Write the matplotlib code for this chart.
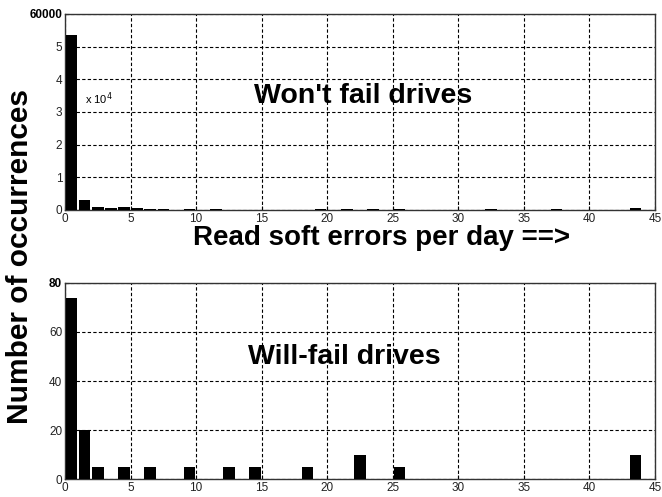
#%% Packages
import numpy as np
import matplotlib
matplotlib.use('Agg')
import matplotlib.pyplot as plt

#%% Data (one bin per error count)
wont_bins = [0, 1, 2, 3, 4, 5, 6, 7, 9, 11, 19, 21, 23, 25, 32, 37, 43]
wont_counts = [53500, 3200, 900, 500, 900, 600, 350, 300, 250, 250,
               250, 200, 200, 250, 250, 250, 600]

will_bins = [0, 1, 2, 4, 6, 9, 12, 14, 18, 22, 25, 43]
will_counts = [74, 20, 5, 5, 5, 5, 5, 5, 5, 10, 5, 10]

x_ticks = [0, 5, 10, 15, 20, 25, 30, 35, 40, 45]
top_yticks = [0, 10000, 20000, 30000, 40000, 50000, 60000]
top_ylabels = ['0', '1', '2', '3', '4', '5', '60000']
bot_yticks = [0, 20, 40, 60, 80]
bot_ylabels = ['0', '20', '40', '60', '80']

#%% Style
plt.rcParams['font.family'] = ['Liberation Sans', 'DejaVu Sans']
tick_font = 8.5
W, H = 662, 497


def setup_axis(ax, yticks, ylabels, ymax):
    ax.set_xlim(0, 45)
    ax.set_ylim(0, ymax)
    ax.set_xticks(x_ticks)
    ax.set_xticklabels([str(t) for t in x_ticks], fontsize=tick_font, color='#222222')
    ax.set_yticks(yticks)
    ax.set_yticklabels(ylabels, fontsize=tick_font, color='#222222')
    # MATLAB shows the top label in bold
    ax.get_yticklabels()[-1].set_fontweight('bold')
    ax.get_yticklabels()[-1].set_color('black')
    ax.tick_params(direction='in', length=3, width=0.8, pad=2)
    ax.grid(True, color='black', linestyle=(0, (3, 2)), linewidth=0.8)
    ax.set_axisbelow(True)
    for s in ax.spines.values():
        s.set_color('#333333')
        s.set_linewidth(1.0)


#%% Figure
fig = plt.figure(figsize=(6.62, 4.97), dpi=100)
ax1 = fig.add_axes([0.0982, 0.5775, 0.8912, 0.3944])
ax2 = fig.add_axes([0.0982, 0.0362, 0.8912, 0.3944])

ax1.bar(np.array(wont_bins) + 0.5, wont_counts, width=0.88, color='black', zorder=3)
setup_axis(ax1, top_yticks, top_ylabels, 60000)
ax1.text(0.034, 0.57, r'x 10$^4$', transform=ax1.transAxes, fontsize=8, ha='left', va='center')

ax2.bar(np.array(will_bins) + 0.5, will_counts, width=0.88, color='black', zorder=3)
setup_axis(ax2, bot_yticks, bot_ylabels, 80)

# annotations placed in figure pixels
fig.text(363 / W, 1 - 96 / H, "Won't fail drives", fontsize=20.5,
         fontweight='bold', ha='center', va='center')
fig.text(344 / W, 1 - 357 / H, "Will-fail drives", fontsize=20.5,
         fontweight='bold', ha='center', va='center')
fig.text(382 / W, 1 - 238 / H, 'Read soft errors per day ==>', fontsize=20,
         fontweight='bold', ha='center', va='center')
fig.text(20 / W, 1 - 257 / H, 'Number of occurrences', fontsize=21.5,
         fontweight='bold', ha='center', va='center', rotation=90)

fig.savefig('out.png', dpi=100)
